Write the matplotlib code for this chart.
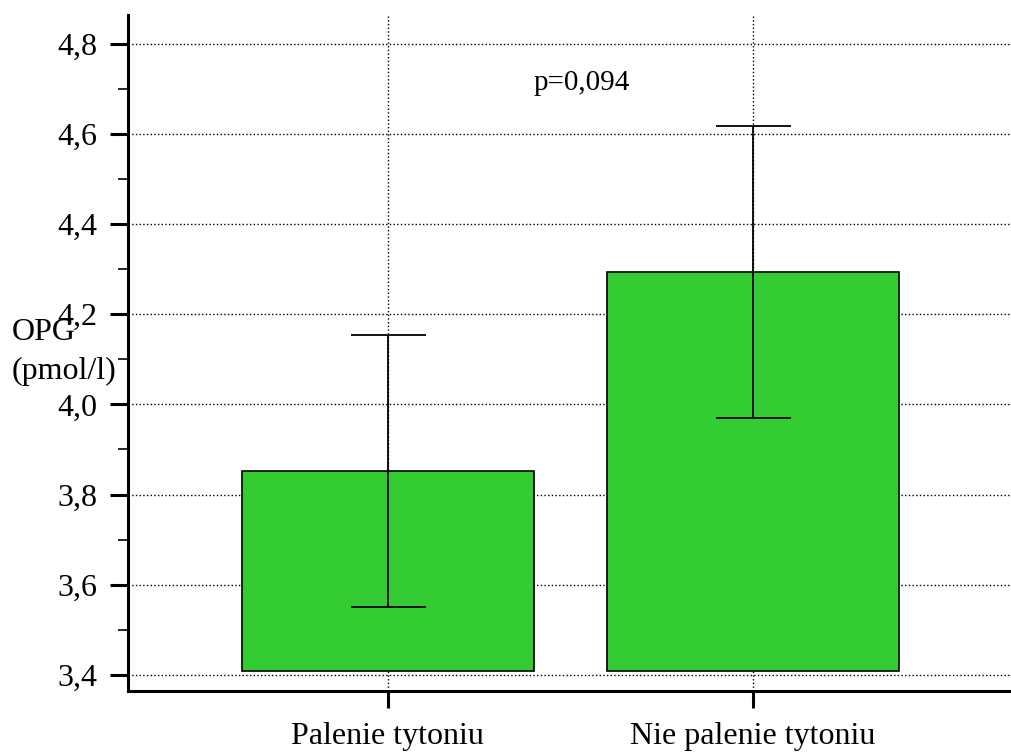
import numpy as np
import matplotlib.pyplot as plt
from matplotlib.ticker import MultipleLocator, FuncFormatter

# data
groups = ["Palenie tytoniu", "Nie palenie tytoniu"]
means = [3.852, 4.294]
errors = [0.302, 0.324]
base = 3.408
p_text = "p=0,094"

plt.rcParams['font.family'] = ['Liberation Serif', 'DejaVu Serif']

fig = plt.figure(figsize=(10.11, 7.54), dpi=100)
ax = fig.add_axes([0.1266, 0.0836, 0.8734, 0.8964])

x = np.arange(1, len(groups) + 1)
heights = [m - base for m in means]
ax.bar(x, heights, bottom=base, width=0.8, color='#33CC33', edgecolor='black',
       linewidth=1.2, zorder=2)
ax.errorbar(x, means, yerr=errors, fmt='none', ecolor='black', elinewidth=1.3,
            capsize=27, capthick=1.3, zorder=3)

ax.set_xlim(0.288, 2.707)
ax.set_ylim(3.364, 4.864)
ax.set_xticks(x)
ax.set_xticklabels(groups)
ax.yaxis.set_major_locator(MultipleLocator(0.2))
ax.yaxis.set_minor_locator(MultipleLocator(0.1))
ax.yaxis.set_major_formatter(FuncFormatter(lambda v, pos: f"{v:.1f}".replace('.', ',')))

ax.grid(True, which='major', linestyle=':', color='black', linewidth=1.0, zorder=0)
ax.set_axisbelow(True)

for side in ['top', 'right']:
    ax.spines[side].set_visible(False)
for side in ['left', 'bottom']:
    ax.spines[side].set_linewidth(2.2)

ax.tick_params(axis='y', which='major', direction='out', length=13, width=2.2,
               labelsize=23, pad=9)
ax.tick_params(axis='y', which='minor', direction='out', length=7, width=1.2)
ax.tick_params(axis='x', which='major', direction='out', length=12, width=2.2,
               labelsize=23, pad=10)

ax.text(1.53, 4.713, p_text, ha='center', va='center', fontsize=21)

fig.text(12 / 1011, 1 - 332 / 754, "OPG", ha='left', va='center', fontsize=23)
fig.text(12 / 1011, 1 - 371 / 754, "(pmol/l)", ha='left', va='center', fontsize=23)

fig.savefig("out.png", dpi=100)
